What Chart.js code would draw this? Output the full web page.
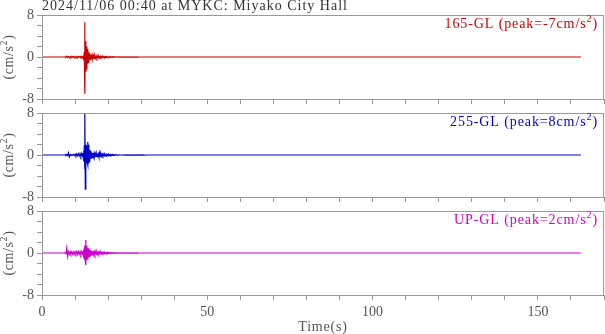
<!DOCTYPE html>
<html><head><meta charset="utf-8">
<script src="https://cdn.jsdelivr.net/npm/chart.js@4/dist/chart.umd.min.js"></script>
<style>
html,body{margin:0;padding:0;background:#fff;}
#wrap{position:relative;width:605px;height:334px;}
canvas{position:absolute;left:0;top:0;}
</style></head>
<body><div id="wrap">
<canvas id="c1" width="605" height="334"></canvas>
<canvas id="c2" width="605" height="334"></canvas>
<canvas id="c3" width="605" height="334"></canvas>
</div>
<script>
const chartTitle = "2024/11/06 00:40 at MYKC: Miyako City Hall";
const xTitle = "Time(s)";
const yUnit = "(cm/s";
const channelNames = ["165-GL", "255-GL", "UP-GL"];
const peaks = [-7, 8, 2];
const xTickLabels = [0, 50, 100, 150];
const yTickLabels = [-8, 0, 8];

const times = [0, 6.8,
 7, 7.25, 7.5, 7.75, 8, 8.25, 8.5, 8.75, 9, 9.25, 9.5, 9.75, 10, 10.25, 10.5, 10.75, 11, 11.25, 11.5, 11.75, 12, 12.25,
 12.4, 12.5, 12.6, 12.7, 12.8, 12.9, 13, 13.1, 13.2, 13.3, 13.4, 13.5, 13.6, 13.7, 13.8, 13.9, 14, 14.1, 14.2, 14.3, 14.4, 14.5, 14.6, 14.7, 14.8, 14.9, 15,
 15.2, 15.4, 15.6, 15.8, 16, 16.2, 16.4, 16.6, 16.8, 17, 17.2, 17.4, 17.6, 17.8, 18, 18.2, 18.4, 18.6, 18.8, 19, 19.2, 19.4, 19.6, 19.8, 20, 20.2, 20.4, 20.6, 20.8, 21, 21.2, 21.4, 21.6, 21.8, 22,
 22.5, 23, 23.5, 24, 24.5, 25, 25.5, 26, 26.5, 27, 27.5, 28, 28.5, 29, 29.5, 30, 30.5, 31, 31.5, 32,
 40, 163];

const acc165 = [0, 0,
 0.05, -0.05, 0.15, -0.1, 0.1, -0.15, 0.05, -0.1, 0.15, -0.05, 0.1, -0.15, 0.05, -0.1, 0.1, -0.15, 0.1, -0.05, 0.15, -0.1, 0.1, -0.15,
 0.2, -0.3, 0.4, -0.5, 1.0, 6.6, -7.0, 3.0, -2.8, 2.6, -2.3, 2.0, -1.8, 1.5, -1.3, 1.1, -1.0, 0.9, -0.8, 0.7, -0.6, 0.6, -0.5, 0.5, -0.45, 0.4, -0.4,
 0.35, -0.3, 0.3, -0.25, 0.25, -0.2, 0.2, -0.2, 0.15, -0.15, 0.15, -0.15, 0.12, -0.12, 0.1, -0.1, 0.1, -0.1, 0.08, -0.08, 0.08, -0.08, 0.06, -0.06, 0.06, -0.06, 0.05, -0.05, 0.05, -0.05, 0.04, -0.04, 0.04, -0.04, 0.03,
 0.03, -0.03, 0.02, -0.02, 0.02, -0.02, 0.02, -0.02, 0.01, -0.01, 0.01, -0.01, 0.01, -0.01, 0, 0, 0, 0, 0, 0,
 0, 0];

const acc255 = [0, 0,
 0.05, -0.05, 0.1, -0.1, 0.4, -0.35, 0.1, -0.05, 0.05, -0.05, 0.1, -0.1, 0.15, -0.15, 0.2, -0.15, 0.25, -0.2, 0.25, -0.25, 0.3, -0.25,
 0.4, -0.6, 0.8, -1.2, 1.8, -2.7, 8.0, -6.5, 2.0, -1.8, 1.6, -1.5, 1.8, -1.5, 2.5, -1.9, 2.0, -1.6, 1.4, -1.2, 1.0, -0.9, 0.8, -0.7, 0.6, -0.6, 0.5,
 -0.45, 0.4, -0.35, 0.35, -0.3, 0.25, -0.25, 0.25, -0.2, 0.2, -0.35, 0.4, -0.3, 0.25, -0.2, 0.2, -0.15, 0.15, -0.15, 0.15, -0.12, 0.12, -0.1, 0.1, -0.1, 0.1, -0.08, 0.08, -0.08, 0.08, -0.06, 0.06, -0.06, 0.06, -0.05,
 0.05, -0.05, 0.04, -0.04, 0.04, -0.04, 0.03, -0.03, 0.03, -0.03, 0.02, -0.02, 0.02, -0.02, 0.01, -0.01, 0.01, -0.01, 0, 0,
 0, 0];

const accUP = [0, 0,
 0.1, -0.1, 0.95, -0.65, 0.25, -0.25, 0.25, -0.2, 0.25, -0.25, 0.2, -0.25, 0.25, -0.2, 0.25, -0.25, 0.3, -0.25, 0.25, -0.3, 0.3, -0.25,
 0.4, -0.5, 0.7, -0.8, 1.0, -1.2, 1.5, -1.4, 2.5, -2.3, 1.4, -1.3, 1.2, -1.1, 1.0, -1.0, 0.9, -0.8, 0.7, -0.7, 0.6, -0.6, 0.5, -0.5, 0.5, -0.4, 0.4,
 -0.35, 0.35, -0.3, 0.3, -0.25, 0.25, -0.25, 0.2, -0.2, 0.2, -0.18, 0.18, -0.15, 0.15, -0.15, 0.12, -0.12, 0.12, -0.1, 0.1, -0.1, 0.1, -0.08, 0.08, -0.08, 0.06, -0.06, 0.06, -0.05, 0.05, -0.05, 0.04, -0.04, 0.04, -0.03,
 0.03, -0.03, 0.03, -0.02, 0.02, -0.02, 0.02, -0.02, 0.01, -0.01, 0.01, -0.01, 0.01, -0.01, 0, 0, 0, 0, 0, 0,
 0, 0];

const SERIF = "'Liberation Serif', 'DejaVu Serif', serif";
const AXIS = '#999';
const TXT = '#555';

function drawParts(ctx, parts, x, y, align) {
  let total = 0;
  const widths = parts.map(p => { ctx.font = (p[1] ? '10px ' : '14px ') + SERIF; const w = ctx.measureText(p[0]).width; total += w; return w; });
  let cx = align === 'right' ? x - total : (align === 'center' ? x - total / 2 : x);
  ctx.textAlign = 'left';
  ctx.textBaseline = 'alphabetic';
  parts.forEach((p, i) => {
    ctx.font = (p[1] ? '10px ' : '14px ') + SERIF;
    ctx.fillText(p[0], cx, p[1] ? y - 6 : y);
    cx += widths[i];
  });
}

function setSpacing(ctx, v) { try { ctx.letterSpacing = v; } catch (e) {} }

const decor = {
  id: 'decor',
  afterDraw(chart, args, opts) {
    const ctx = chart.ctx, a = chart.chartArea;
    ctx.save();
    ctx.strokeStyle = AXIS; ctx.lineWidth = 1;
    ctx.strokeRect(Math.round(a.left) + 0.5, Math.round(a.top) + 0.5, Math.round(a.right - a.left) - 1, Math.round(a.bottom - a.top));
    setSpacing(ctx, '0.9px');
    ctx.fillStyle = opts.color;
    drawParts(ctx, [[opts.name + ' (peak=' + opts.peak + 'cm/s', false], ['2', true], [')', false]], 598, a.top + 13, 'right');
    setSpacing(ctx, '0.6px');
    ctx.fillStyle = TXT;
    ctx.save();
    ctx.translate(13, (a.top + a.bottom) / 2);
    ctx.rotate(-Math.PI / 2);
    drawParts(ctx, [[yUnit, false], ['2', true], [')', false]], 0, 0, 'center');
    ctx.restore();
    if (opts.top) {
      setSpacing(ctx, '1px');
      ctx.fillStyle = '#333';
      ctx.font = '14px ' + SERIF;
      ctx.textAlign = 'left'; ctx.textBaseline = 'alphabetic';
      ctx.fillText(chartTitle, 42, 10);
    }
    if (opts.bottom) {
      setSpacing(ctx, '0.8px');
      ctx.fillStyle = TXT;
      ctx.font = '14px ' + SERIF;
      ctx.textAlign = 'center'; ctx.textBaseline = 'alphabetic';
      ctx.fillText(xTitle, (a.left + a.right) / 2, 331);
    }
    ctx.restore();
  }
};

function makeChart(id, vals, color, idx, top, bottom, isTop, isBottom) {
  const H = isBottom ? 39 : 10;
  return new Chart(document.getElementById(id), {
    type: 'line',
    data: { datasets: [{
      data: times.map((t, i) => ({ x: t, y: vals[i] })),
      borderColor: color, borderWidth: 1.2, pointRadius: 0, tension: 0, fill: false
    }]},
    options: {
      responsive: false, animation: false, events: [],
      layout: { padding: { left: 0, right: 1, top: top, bottom: 334 - bottom - H } },
      plugins: { legend: { display: false }, tooltip: { enabled: false },
        decor: { color: color, name: channelNames[idx], peak: peaks[idx], top: isTop, bottom: isBottom } },
      scales: {
        x: {
          type: 'linear', min: 0, max: 170,
          afterFit(s) { s.height = H; s.paddingLeft = 0; s.paddingRight = 0; },
          border: { color: AXIS },
          grid: { drawOnChartArea: false, tickLength: 5, color: AXIS },
          ticks: { stepSize: 10, autoSkip: false, maxRotation: 0, padding: 4, color: TXT,
            font: { family: SERIF, size: 14 },
            callback: v => (isBottom && xTickLabels.includes(v)) ? String(v) : '' }
        },
        y: {
          min: -8, max: 8,
          afterFit(s) { s.width = 42; s.paddingTop = 0; s.paddingBottom = 0; },
          border: { color: AXIS },
          grid: { drawOnChartArea: false, tickLength: 5, color: AXIS },
          ticks: { stepSize: 2, autoSkip: false, padding: 3, color: TXT,
            font: { family: SERIF, size: 14 },
            callback: v => yTickLabels.includes(v) ? String(v) : '' }
        }
      }
    },
    plugins: [decor]
  });
}

makeChart('c1', acc165, '#cc0000', 0, 15, 99, true, false);
makeChart('c2', acc255, '#0000cc', 1, 113, 197, false, false);
makeChart('c3', accUP, '#cc00cc', 2, 211, 295, false, true);
</script>
</body></html>
